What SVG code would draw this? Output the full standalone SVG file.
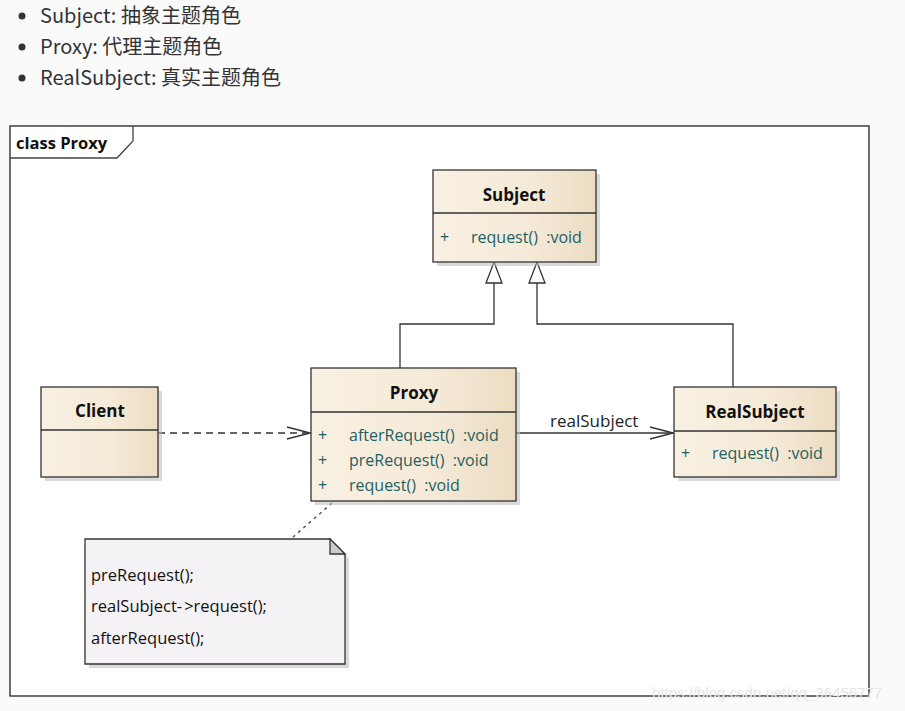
<svg xmlns="http://www.w3.org/2000/svg" width="905" height="711" viewBox="0 0 905 711">
<defs>
<linearGradient id="cls" x1="0" y1="0" x2="1" y2="0">
<stop offset="0" stop-color="#f8f0e2"/>
<stop offset="0.6" stop-color="#f5ead8"/>
<stop offset="1" stop-color="#ecdcc2"/>
</linearGradient>
<marker id="open" markerWidth="26" markerHeight="14" refX="24" refY="7" orient="auto" markerUnits="userSpaceOnUse">
<path d="M1,1 L24,7 L1,13" fill="none" stroke="#333" stroke-width="1.3"/>
</marker>
<style>
.bul{font-family:"Noto Sans CJK SC","Noto Sans",sans-serif;font-size:20px;fill:#333}
.box{fill:url(#cls);stroke:#333;stroke-width:1.3}
.shadow{fill:#bbb;opacity:0.55}
.title{font-family:"Open Sans","Liberation Sans",sans-serif;font-weight:bold;font-size:17px;fill:#111;text-anchor:middle}
.attr{font-family:"Open Sans","Liberation Sans",sans-serif;font-size:16px;fill:#1f5f5f;white-space:pre}
.plus{font-family:"Open Sans","Liberation Sans",sans-serif;font-size:16px;fill:#1f5f5f}
.edge{fill:none;stroke:#333;stroke-width:1.3}
.note{font-family:"Open Sans","Liberation Sans",sans-serif;font-size:16.5px;fill:#111;white-space:pre}
</style>
</defs>
<rect x="0" y="0" width="905" height="711" fill="#fafafa"/>
<g id="bullets">
<circle cx="22" cy="16" r="3.5" fill="#333"/>
<text class="bul" x="40" y="23">Subject: 抽象主题角色</text>
<circle cx="22" cy="47" r="3.5" fill="#333"/>
<text class="bul" x="40" y="54">Proxy: 代理主题角色</text>
<circle cx="22" cy="78" r="3.5" fill="#333"/>
<text class="bul" x="40" y="85">RealSubject: 真实主题角色</text>
</g>
<g id="frame">
<rect x="10" y="126" width="859" height="570" fill="#fff" stroke="#222" stroke-width="1.3"/>
<path d="M10,158 L117,158 L133,141 L133,126" fill="none" stroke="#444" stroke-width="1.3"/>
<text x="16" y="149" font-family="'Open Sans','Liberation Sans',sans-serif" font-weight="bold" font-size="16.5" fill="#111">class Proxy</text>
</g>
<g id="connectors">
<path class="edge" d="M400,368 V324 H494 V283"/>
<path d="M494,262 L486,283 L502,283 Z" fill="#fff" stroke="#333" stroke-width="1.3"/>
<path class="edge" d="M733,387 V324 H537 V283"/>
<path d="M537,262 L529,283 L545,283 Z" fill="#fff" stroke="#333" stroke-width="1.3"/>
<path class="edge" d="M158,433 H310" stroke-dasharray="7,5" marker-end="url(#open)"/>
<path class="edge" d="M516,433 H673" marker-end="url(#open)"/>
<text x="550" y="427" font-family="'Open Sans','Liberation Sans',sans-serif" font-size="17" fill="#222">realSubject</text>
<path d="M332,503 L292,538" fill="none" stroke="#555" stroke-width="1.5" stroke-dasharray="3,4"/>
</g>
<g id="Subject">
<rect class="shadow" x="437" y="174" width="163" height="92"/>
<rect class="box" x="433" y="170" width="163" height="92"/>
<line x1="433" y1="213" x2="596" y2="213" stroke="#333" stroke-width="1.3"/>
<text class="title" x="514" y="201">Subject</text>
<text class="plus" x="440" y="243">+</text>
<text class="attr" x="471" y="243" xml:space="preserve">request()  :void</text>
</g>
<g id="Proxy">
<rect class="shadow" x="315" y="372" width="205" height="133"/>
<rect class="box" x="311" y="368" width="205" height="133"/>
<line x1="311" y1="412" x2="516" y2="412" stroke="#333" stroke-width="1.3"/>
<text class="title" x="414" y="399">Proxy</text>
<text class="plus" x="318" y="441">+</text>
<text class="attr" x="349" y="441" xml:space="preserve">afterRequest()  :void</text>
<text class="plus" x="318" y="466">+</text>
<text class="attr" x="349" y="466" xml:space="preserve">preRequest()  :void</text>
<text class="plus" x="318" y="491">+</text>
<text class="attr" x="349" y="491" xml:space="preserve">request()  :void</text>
</g>
<g id="Client">
<rect class="shadow" x="45" y="391" width="117" height="90"/>
<rect class="box" x="41" y="387" width="117" height="90"/>
<line x1="41" y1="430" x2="158" y2="430" stroke="#333" stroke-width="1.3"/>
<text class="title" x="100" y="417">Client</text>
</g>
<g id="RealSubject">
<rect class="shadow" x="678" y="391" width="162" height="90"/>
<rect class="box" x="674" y="387" width="162" height="90"/>
<line x1="674" y1="431" x2="836" y2="431" stroke="#333" stroke-width="1.3"/>
<text class="title" x="755" y="418">RealSubject</text>
<text class="plus" x="681" y="459">+</text>
<text class="attr" x="712" y="459" xml:space="preserve">request()  :void</text>
</g>
<g id="Note">
<path d="M89,543 H334 L349,558 V668 H89 Z" fill="#bbb" opacity="0.55"/>
<path d="M85,539 H330 L345,554 V664 H85 Z" fill="#f5f2f6" stroke="#333" stroke-width="1.3"/>
<path d="M330,539 V554 H345 Z" fill="#ccc" stroke="#333" stroke-width="1.3"/>
<text class="note" x="91" y="581">preRequest();</text>
<text class="note" x="91" y="612">realSubject-<tspan dx="2">&gt;request();</tspan></text>
<text class="note" x="91" y="644">afterRequest();</text>
</g>
<text x="652" y="698" font-family="'Liberation Sans',sans-serif" font-size="15" fill="#e6e6e6">https://blog.csdn.net/qq_36456777</text>
</svg>
